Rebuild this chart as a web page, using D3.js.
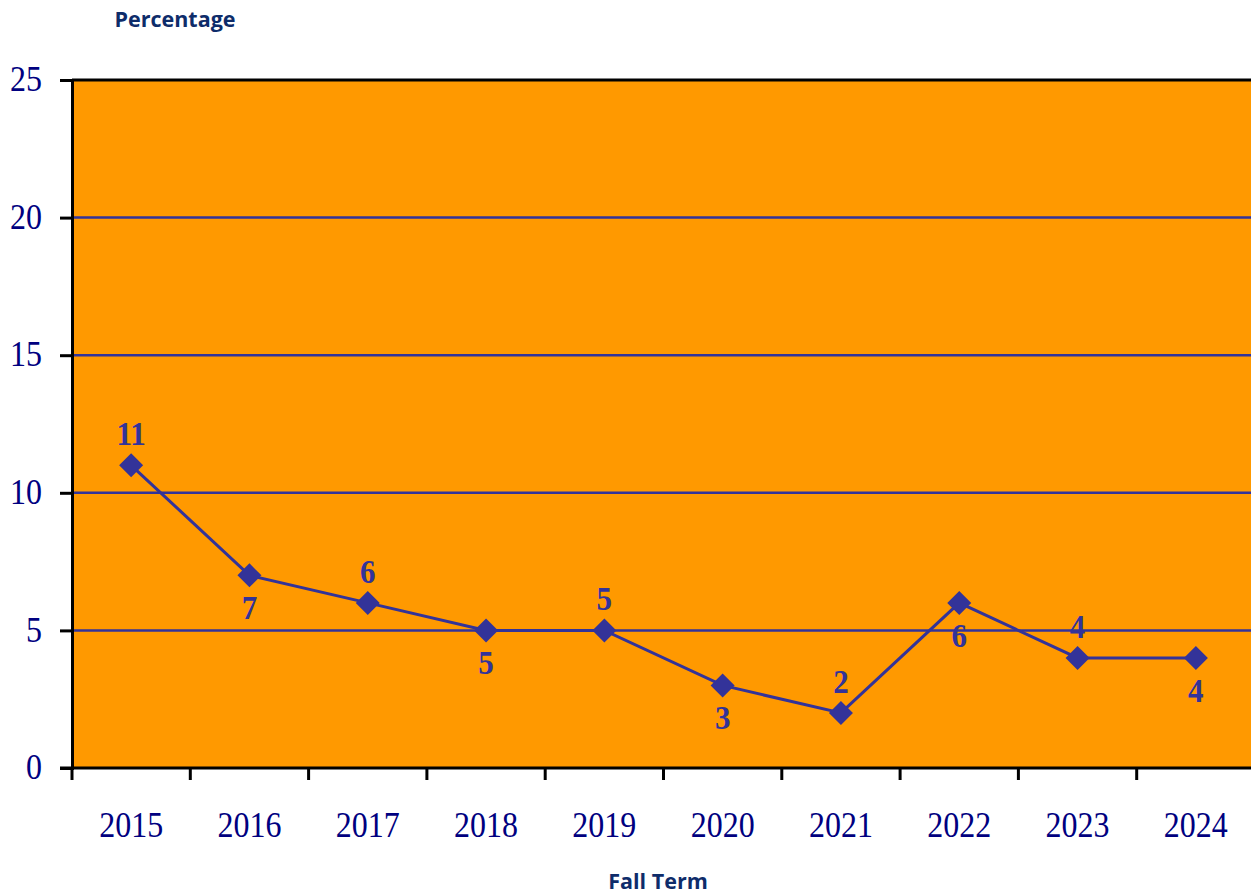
<!DOCTYPE html>
<html><head><meta charset="utf-8">
<script src="https://cdn.jsdelivr.net/npm/d3@7"></script>
<style>body{margin:0;background:#fff;}svg{display:block;}</style>
</head><body>
<script>
const years = ["2015","2016","2017","2018","2019","2020","2021","2022","2023","2024"];
const values = [11,7,6,5,5,3,2,6,4,4];
const labelPos = ["above","below","above","below","above","below","above","below","above","below"];
const yTicks = [0,5,10,15,20,25];
const yTitle = "Percentage";
const xTitle = "Fall Term";

(function(){
const W = 1251, H = 895;
const mL = 72, mT = 80, mR = 1255, mB = 768;
const sy = 1.12;
const serif = "'Liberation Serif', 'Times New Roman', serif";
const svg = d3.select("body").append("svg").attr("width", W).attr("height", H);

const x = d3.scaleBand().domain(years).range([mL, mR]);
const y = d3.scaleLinear().domain([0,25]).range([mB, mT]);

svg.append("rect").attr("x", mL).attr("y", mT).attr("width", mR-mL).attr("height", mB-mT).attr("fill", "#FF9900");

// gridlines
svg.append("g").selectAll("line").data(yTicks.filter(d => d>0 && d<25)).join("line")
  .attr("x1", mL).attr("x2", mR).attr("y1", d=>y(d)).attr("y2", d=>y(d))
  .attr("stroke", "#333399").attr("stroke-width", 2.5);

// top border
svg.append("line").attr("x1", mL).attr("x2", mR).attr("y1", mT).attr("y2", mT).attr("stroke","#000").attr("stroke-width",3);

// y axis
const yAxis = svg.append("g").attr("transform", `translate(${mL},0)`)
  .call(d3.axisLeft(y).tickValues(yTicks).tickSize(12).tickPadding(18));
yAxis.select(".domain").attr("stroke","#000").attr("stroke-width",3);
yAxis.selectAll(".tick line").attr("stroke","#000").attr("stroke-width",3);
yAxis.selectAll(".tick text").attr("fill","#000080").attr("font-family",serif).attr("font-size",32)
  .attr("dy","0.3em").attr("transform",`scale(1,${sy})`);

// x axis
const xAxis = svg.append("g").attr("transform", `translate(0,${mB})`)
  .call(d3.axisBottom(x).tickSize(0).tickPadding(0));
xAxis.select(".domain").remove();
xAxis.selectAll(".tick text").attr("fill","#000080").attr("font-family",serif).attr("font-size",32)
  .attr("y",69/sy).attr("dy",0).attr("transform",`scale(1,${sy})`);
svg.append("line").attr("x1", mL-12).attr("x2", mR).attr("y1", mB).attr("y2", mB).attr("stroke","#000").attr("stroke-width",3);
const boundaries = years.map(d => x(d)).concat([mR]);
svg.append("g").selectAll("line").data(boundaries).join("line")
  .attr("x1", d=>d).attr("x2", d=>d).attr("y1", mB).attr("y2", mB+12)
  .attr("stroke","#000").attr("stroke-width",3);

// line
const cx = d => x(d) + x.bandwidth()/2;
svg.append("path").datum(values)
  .attr("d", d3.line().x((d,i)=>cx(years[i])).y(d=>y(d)))
  .attr("fill","none").attr("stroke","#333399").attr("stroke-width",3);

// markers
svg.append("g").selectAll("path").data(values).join("path")
  .attr("transform",(d,i)=>`translate(${cx(years[i])},${y(d)})`)
  .attr("d","M0,-12L12,0L0,12L-12,0Z").attr("fill","#333399");

// labels
svg.append("g").selectAll("text").data(values).join("text")
  .attr("transform",(d,i)=>`translate(${cx(years[i])},${labelPos[i]==="above" ? y(d)-20 : y(d)+44}) scale(1,${sy})`)
  .attr("text-anchor","middle")
  .attr("font-family",serif)
  .attr("font-weight","bold").attr("font-size",31).attr("fill","#333399")
  .text(d=>d);

// titles
svg.append("text").attr("x",175).attr("y",27).attr("text-anchor","middle")
  .attr("font-family","'Open Sans', 'Noto Sans', sans-serif").attr("font-weight","bold").attr("font-size",21.5)
  .attr("fill","#0E2C6A").text(yTitle);
svg.append("text").attr("x",658).attr("y",889).attr("text-anchor","middle")
  .attr("font-family","'Open Sans', 'Noto Sans', sans-serif").attr("font-weight","bold").attr("font-size",21.5)
  .attr("fill","#0E2C6A").text(xTitle);
})();
</script>
</body></html>
